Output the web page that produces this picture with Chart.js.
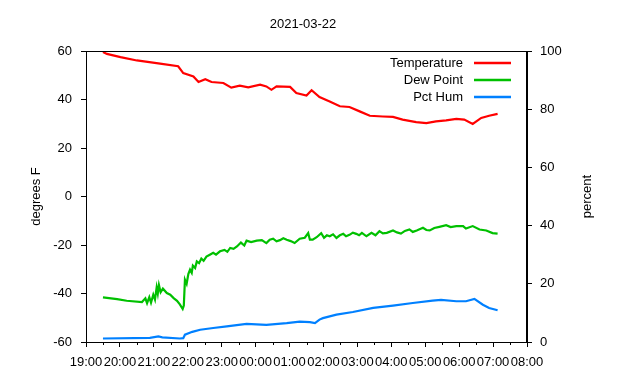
<!DOCTYPE html>
<html>
<head>
<meta charset="utf-8">
<script src="https://cdn.jsdelivr.net/npm/chart.js@4.4.1/dist/chart.umd.min.js"></script>
<style>
html, body { margin: 0; padding: 0; background: #fff; }
</style>
</head>
<body>
<canvas id="weatherChart" width="640" height="380"></canvas>
<script>
// Hour labels along the bottom axis (19:00 .. 08:00)
const hourLabels = ['19:00', '20:00', '21:00', '22:00', '23:00', '00:00', '01:00',
    '02:00', '03:00', '04:00', '05:00', '06:00', '07:00', '08:00'];

// Temperature, degrees F (left axis)
const tempTimes = ['19:30', '19:37', '20:01', '20:30', '21:11', '21:43', '21:52', '22:10',
    '22:19', '22:31', '22:42', '23:03', '23:17', '23:32', '23:47', '00:08', '00:19', '00:28',
    '00:37', '01:01', '01:12', '01:30', '01:39', '01:53', '02:11', '02:29', '02:46', '03:04',
    '03:22', '03:45', '04:03', '04:20', '04:44', '05:02', '05:19', '05:37', '05:55', '06:09',
    '06:24', '06:39', '06:53', '07:08'];
const tempValues = [59.6, 58.8, 57.5, 56.1, 54.8, 53.7, 50.9, 49.5,
    47.2, 48.4, 47.2, 46.8, 44.9, 45.7, 45.0, 46.1, 45.4, 44.0,
    45.4, 45.2, 42.7, 41.6, 43.8, 41.0, 39.2, 37.2, 36.9, 35.1,
    33.3, 33.0, 32.8, 31.7, 30.7, 30.3, 31.0, 31.4, 32.0, 31.7,
    29.9, 32.4, 33.3, 34.1];

// Dew point, degrees F (left axis)
const dewTimes = ['19:30', '19:55', '20:12', '20:39', '20:45', '20:48', '20:52', '20:55',
    '20:59', '21:02', '21:05', '21:07', '21:09', '21:12', '21:16', '21:23', '21:29', '21:35',
    '21:41', '21:46', '21:51', '21:53', '21:55', '21:58', '22:01', '22:04', '22:07', '22:09',
    '22:13', '22:16', '22:20', '22:24', '22:28', '22:33', '22:39', '22:45', '22:50', '22:57',
    '23:05', '23:10', '23:15', '23:21', '23:27', '23:34', '23:40', '23:44', '23:52', '00:02',
    '00:11', '00:19', '00:25', '00:31', '00:37', '00:43', '00:49', '00:55', '01:02', '01:09',
    '01:18', '01:27', '01:33', '01:36', '01:41', '01:48', '01:56', '02:01', '02:06', '02:11',
    '02:17', '02:23', '02:29', '02:35', '02:40', '02:46', '02:52', '02:58', '03:03', '03:08',
    '03:16', '03:25', '03:32', '03:39', '03:45', '03:52', '04:03', '04:10', '04:17', '04:24',
    '04:32', '04:38', '04:45', '04:56', '05:02', '05:08', '05:16', '05:25', '05:37', '05:45',
    '05:55', '06:07', '06:12', '06:24', '06:36', '06:48', '06:59', '07:08'];
const dewValues = [-41.6, -42.3, -43.0, -43.5, -42.0, -44.0, -41.5, -43.8,
    -40.5, -42.5, -37.5, -40.0, -36.5, -39.5, -38.0, -39.8, -40.5, -41.9,
    -43.0, -44.5, -46.4, -45.0, -34.3, -36.0, -32.0, -30.2, -31.5, -28.5,
    -29.5, -26.8, -27.5, -25.6, -26.5, -24.8, -24.0, -23.2, -24.0, -22.6,
    -22.0, -22.8, -21.2, -21.6, -20.6, -19.0, -20.2, -18.2, -18.8, -18.2,
    -18.0, -19.2, -17.8, -17.4, -18.5, -18.0, -17.2, -17.8, -18.4, -19.2,
    -17.4, -17.0, -15.1, -17.8, -17.8, -16.8, -15.1, -17.0, -16.0, -16.4,
    -15.6, -17.1, -16.0, -15.4, -16.4, -15.8, -14.9, -15.4, -16.0, -15.0,
    -16.4, -15.0, -16.0, -14.3, -15.2, -15.0, -14.0, -14.8, -15.3, -14.2,
    -13.6, -14.6, -14.0, -12.9, -13.8, -14.0, -13.0, -12.5, -11.8, -12.6,
    -12.2, -12.2, -13.2, -12.2, -13.6, -14.0, -15.1, -15.3];

// Relative humidity, percent (right axis)
const humTimes = ['19:30', '20:53', '21:08', '21:15', '21:46', '21:52', '21:55', '22:08',
    '22:22', '22:45', '23:09', '23:44', '00:19', '00:55', '01:18', '01:36', '01:45', '01:53',
    '01:59', '02:23', '02:52', '03:28', '04:03', '04:38', '05:13', '05:28', '05:55', '06:12',
    '06:27', '06:42', '06:53', '07:08'];
const humValues = [1.2, 1.4, 1.9, 1.6, 1.2, 1.3, 2.5, 3.5,
    4.2, 4.8, 5.4, 6.2, 5.9, 6.5, 7.0, 6.8, 6.5, 7.7,
    8.2, 9.4, 10.3, 11.7, 12.5, 13.4, 14.2, 14.5, 14.0, 14.0,
    14.8, 12.8, 11.7, 10.9];

const FONT = "'Liberation Sans', Arial, Helvetica, sans-serif";
Chart.defaults.font.family = FONT;
Chart.defaults.font.size = 13;
Chart.defaults.color = '#000';

// minutes after 19:00 for an "HH:MM" clock string
function toMinutes(clock) {
    let [h, m] = clock.split(':').map(Number);
    if (h < 19) h += 24;
    return (h - 19) * 60 + m;
}

function toPoints(times, values) {
    return times.map((t, i) => ({ x: toMinutes(t), y: values[i] }));
}

// frame, half-hour minor ticks, legend and right-hand axis title
const framePlugin = {
    id: 'gnuFrame',
    afterDraw(chart) {
        const { ctx, chartArea: a } = chart;
        const xs = chart.scales.x;
        ctx.save();
        ctx.strokeStyle = '#000';
        ctx.lineWidth = 1;
        ctx.strokeRect(a.left + 0.5, a.top + 0.5, a.right - a.left - 1, a.bottom - a.top);

        // minor ticks every half hour
        ctx.beginPath();
        for (let m = 30; m < 780; m += 60) {
            const px = Math.round(xs.getPixelForValue(m)) + 0.5;
            ctx.moveTo(px, a.bottom);
            ctx.lineTo(px, a.bottom + 3);
        }
        ctx.stroke();

        // legend: label, then a line sample
        ctx.font = '13px ' + FONT;
        ctx.textAlign = 'right';
        ctx.textBaseline = 'middle';
        chart.data.datasets.forEach((ds, i) => {
            const y = a.top + 12 + i * 17;
            ctx.fillStyle = '#000';
            ctx.fillText(ds.label, a.right - 64, y);
            ctx.strokeStyle = ds.borderColor;
            ctx.lineWidth = 2.5;
            ctx.beginPath();
            ctx.moveTo(a.right - 53, y);
            ctx.lineTo(a.right - 16, y);
            ctx.stroke();
        });

        // right axis title, read bottom to top
        ctx.translate(a.right + 60, (a.top + a.bottom) / 2);
        ctx.rotate(-Math.PI / 2);
        ctx.textAlign = 'center';
        ctx.fillStyle = '#000';
        ctx.fillText('percent', 0, 0);
        ctx.restore();
    }
};

const weatherChart = new Chart(document.getElementById('weatherChart').getContext('2d'), {
    type: 'line',
    data: {
        datasets: [
            {
                label: 'Temperature',
                data: toPoints(tempTimes, tempValues),
                borderColor: '#ff0000',
                borderWidth: 2.2,
                yAxisID: 'y'
            },
            {
                label: 'Dew Point',
                data: toPoints(dewTimes, dewValues),
                borderColor: '#00c000',
                borderWidth: 2.2,
                yAxisID: 'y'
            },
            {
                label: 'Pct Hum',
                data: toPoints(humTimes, humValues),
                borderColor: '#0080ff',
                borderWidth: 2.2,
                yAxisID: 'y1'
            }
        ]
    },
    options: {
        responsive: false,
        animation: false,
        layout: { padding: { left: 0, right: 34, top: 0, bottom: 0 } },
        elements: { point: { radius: 0 }, line: { tension: 0 } },
        plugins: {
            legend: { display: false },
            tooltip: { enabled: false },
            title: {
                display: true,
                text: '2021-03-22',
                color: '#000',
                font: { size: 13, weight: 'normal' },
                padding: { top: 17, bottom: 18.4 }
            }
        },
        scales: {
            x: {
                type: 'linear',
                min: 0,
                max: 780,
                afterFit: s => { s.height = 38; },
                border: { display: true, color: '#000' },
                grid: { drawOnChartArea: false, drawTicks: true, tickLength: 5, color: '#000' },
                ticks: {
                    stepSize: 60,
                    padding: 8,
                    maxRotation: 0,
                    autoSkip: false,
                    callback: v => hourLabels[v / 60]
                }
            },
            y: {
                position: 'left',
                min: -60,
                max: 60,
                afterFit: s => { s.width = 86; },
                border: { display: true, color: '#000' },
                grid: { drawOnChartArea: false, drawTicks: true, tickLength: 5, color: '#000' },
                ticks: { stepSize: 20, padding: 9 },
                title: {
                    display: true,
                    text: 'degrees F',
                    color: '#000',
                    font: { size: 13 },
                    padding: { top: 29, bottom: 0 }
                }
            },
            y1: {
                position: 'right',
                min: 0,
                max: 100,
                afterFit: s => { s.width = 79; },
                border: { display: true, color: '#000' },
                grid: { drawOnChartArea: false, drawTicks: true, tickLength: 5, color: '#000' },
                ticks: { stepSize: 20, padding: 8 }
            }
        }
    },
    plugins: [framePlugin]
});
</script>
</body>
</html>
